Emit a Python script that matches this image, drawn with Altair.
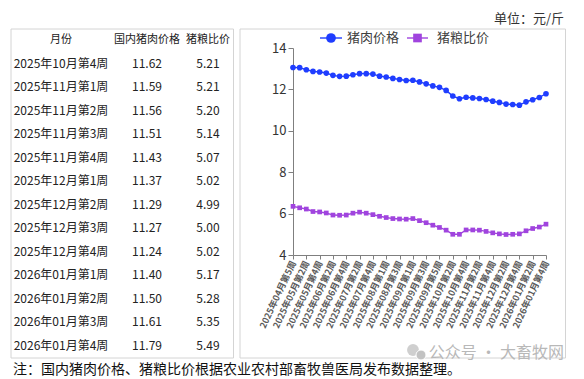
import altair as alt
import pandas as pd

# ---------------- data ----------------
weeks = [
    "2025年04月第5周",
    "2025年05月第1周", "2025年05月第2周", "2025年05月第3周", "2025年05月第4周",
    "2025年06月第1周", "2025年06月第2周", "2025年06月第3周", "2025年06月第4周",
    "2025年07月第1周", "2025年07月第2周", "2025年07月第3周", "2025年07月第4周", "2025年07月第5周",
    "2025年08月第1周", "2025年08月第2周", "2025年08月第3周", "2025年08月第4周",
    "2025年09月第1周", "2025年09月第2周", "2025年09月第3周", "2025年09月第4周", "2025年09月第5周",
    "2025年10月第1周", "2025年10月第2周", "2025年10月第3周", "2025年10月第4周",
    "2025年11月第1周", "2025年11月第2周", "2025年11月第3周", "2025年11月第4周",
    "2025年12月第1周", "2025年12月第2周", "2025年12月第3周", "2025年12月第4周",
    "2026年01月第1周", "2026年01月第2周", "2026年01月第3周", "2026年01月第4周",
]
pork = [13.06, 13.05, 12.95, 12.87, 12.84, 12.79, 12.68, 12.63, 12.64, 12.71,
        12.76, 12.76, 12.74, 12.64, 12.60, 12.53, 12.48, 12.43, 12.44, 12.36,
        12.27, 12.17, 12.10, 11.95, 11.68, 11.55,
        11.62, 11.59, 11.56, 11.51, 11.43, 11.37, 11.29, 11.27, 11.24, 11.40, 11.50, 11.61, 11.79]
ratio = [6.35, 6.28, 6.22, 6.10, 6.08, 6.03, 5.93, 5.92, 5.93, 6.02,
         6.07, 6.02, 5.95, 5.87, 5.81, 5.76, 5.74, 5.73, 5.76, 5.66,
         5.56, 5.44, 5.33, 5.20, 5.00, 5.00,
         5.21, 5.21, 5.20, 5.14, 5.07, 5.02, 4.99, 5.00, 5.02, 5.17, 5.28, 5.35, 5.49]
tick_weeks = weeks[::2]
y_ticks = [4, 6, 8, 10, 12, 14]
series_names = ["猪肉价格", "猪粮比价"]
series_colors = ["#1f3dff", "#a044de"]
table_header = ["月份", "国内猪肉价格", "猪粮比价"]
table_rows = 13
unit_text = "单位：元/斤"
note_text = "注：国内猪肉价格、猪粮比价根据农业农村部畜牧兽医局发布数据整理。"
watermark_text = "公众号 · 大畜牧网"

# ---------------- tables for the library ----------------
df = pd.DataFrame({
    "week": weeks * 2,
    "series": [series_names[0]] * len(weeks) + [series_names[1]] * len(weeks),
    "value": pork + ratio,
})
hdr_df = pd.DataFrame({"row": [0, 0, 0], "col": [0, 1, 2], "text": table_header})
body = []
for i, (w, p, r) in enumerate(zip(weeks[-table_rows:], pork[-table_rows:], ratio[-table_rows:]), start=1):
    body.append({"row": i, "col": 0, "text": w})
    body.append({"row": i, "col": 1, "text": f"{p:.2f}"})
    body.append({"row": i, "col": 2, "text": f"{r:.2f}"})
body_df = pd.DataFrame(body)
one = pd.DataFrame({"k": [0]})

FONT = "Noto Sans CJK SC"

# ---------------- line chart ----------------
X = alt.X("week:O", sort=weeks, title=None,
          scale=alt.Scale(type="point", padding=0),
          axis=alt.Axis(orient="bottom", values=tick_weeks, labelAngle=-65, labelFontSize=9,
                        labelFontWeight="bold", labelColor="#5a5a5a", labelOverlap=False,
                        domainColor="#7f7f7f", tickColor="#7f7f7f", tickSize=4,
                        labelPadding=2, grid=False))
Y = alt.Y("value:Q", title=None,
          scale=alt.Scale(domain=[4, 14], nice=False, zero=False),
          axis=alt.Axis(orient="left", values=y_ticks, labelFontSize=13, labelColor="#333333",
                        domainColor="#7f7f7f", tickColor="#7f7f7f", tickSize=5,
                        labelPadding=2, grid=False))
C = alt.Color("series:N", scale=alt.Scale(domain=series_names, range=series_colors), legend=None)

base = alt.Chart(df)
lines = base.mark_line(strokeWidth=1.4).encode(X, Y, C)
pts_pork = base.transform_filter(alt.datum.series == series_names[0]).mark_point(
    shape="circle", filled=True, opacity=1, size=32).encode(X, Y, C)
pts_ratio = base.transform_filter(alt.datum.series == series_names[1]).mark_point(
    shape="square", filled=True, opacity=1, size=22).encode(X, Y, C)
plot = alt.layer(lines, pts_pork, pts_ratio)

# ---------------- table ----------------
TX = alt.X("col:Q", scale=alt.Scale(domain=[0, 1, 2], range=[-232, -146, -85], nice=False, zero=False), axis=None)
TY = alt.Y("row:Q", scale=alt.Scale(domain=[0, 13], range=[-8, 297.5], nice=False, zero=False), axis=None)
header = alt.Chart(hdr_df).mark_text(fontSize=11, color="#222222", font=FONT).encode(TX, TY, text="text:N")
tbody = alt.Chart(body_df).mark_text(fontSize=12, color="#222222", font=FONT).encode(TX, TY, text="text:N")

# ---------------- decorations ----------------
box_top, box_bot = -19, 310
box_table = alt.Chart(one).mark_rect(fill="#ffffff", fillOpacity=0, stroke="#d4d4d4", strokeWidth=1).encode(
    x=alt.value(-282), x2=alt.value(-59.5), y=alt.value(box_top), y2=alt.value(box_bot))
box_chart = alt.Chart(one).mark_rect(fill="#ffffff", fillOpacity=0, stroke="#d4d4d4", strokeWidth=1).encode(
    x=alt.value(-53), x2=alt.value(272.5), y=alt.value(box_top), y2=alt.value(box_bot))

unit = alt.Chart(one).mark_text(text=unit_text, align="right", fontSize=13, color="#333333", font=FONT).encode(
    x=alt.value(271), y=alt.value(-29.5))
note = alt.Chart(one).mark_text(text=note_text, align="left", fontSize=14, color="#111111", font=FONT).encode(
    x=alt.value(-280), y=alt.value(322))
wm_icon1 = alt.Chart(one).mark_point(shape="circle", filled=True, opacity=1, size=140, color="#cfcfcf").encode(
    x=alt.value(120), y=alt.value(302))
wm_icon2 = alt.Chart(one).mark_point(shape="circle", filled=True, opacity=1, size=100, color="#c2c2c2",
                                      stroke="#ffffff", strokeWidth=1).encode(
    x=alt.value(128), y=alt.value(307))
watermark = alt.Chart(one).mark_text(text=watermark_text, align="right", fontSize=16, color="#b8b8b8", font=FONT).encode(
    x=alt.value(271), y=alt.value(305))

# legend (drawn by hand)
leg_y = -10
leg_line1 = alt.Chart(one).mark_rule(color=series_colors[0], strokeWidth=1.4).encode(
    x=alt.value(27), x2=alt.value(49), y=alt.value(leg_y))
leg_pt1 = alt.Chart(one).mark_point(shape="circle", filled=True, opacity=1, size=95, color=series_colors[0]).encode(
    x=alt.value(38), y=alt.value(leg_y))
leg_tx1 = alt.Chart(one).mark_text(text=series_names[0], align="left", fontSize=13, color="#404040", font=FONT).encode(
    x=alt.value(54), y=alt.value(leg_y))
leg_line2 = alt.Chart(one).mark_rule(color=series_colors[1], strokeWidth=1.4).encode(
    x=alt.value(114), x2=alt.value(135), y=alt.value(leg_y))
leg_pt2 = alt.Chart(one).mark_point(shape="square", filled=True, opacity=1, size=75, color=series_colors[1]).encode(
    x=alt.value(124.5), y=alt.value(leg_y))
leg_tx2 = alt.Chart(one).mark_text(text=series_names[1], align="left", fontSize=13, color="#404040", font=FONT).encode(
    x=alt.value(144), y=alt.value(leg_y))

chart = alt.layer(
    plot, header, tbody,
    box_table, box_chart, unit, note, wm_icon1, wm_icon2, watermark,
    leg_line1, leg_pt1, leg_tx1, leg_line2, leg_pt2, leg_tx2,
).resolve_scale(x="independent", y="independent").properties(
    width=253, height=207,
    autosize=alt.AutoSizeParams(type="none"),
    padding={"left": 285, "top": 40, "right": 30, "bottom": 124},
).configure(font=FONT).configure_view(stroke="transparent")

chart.save("out.html", embed_options={"renderer": "svg", "actions": False})
